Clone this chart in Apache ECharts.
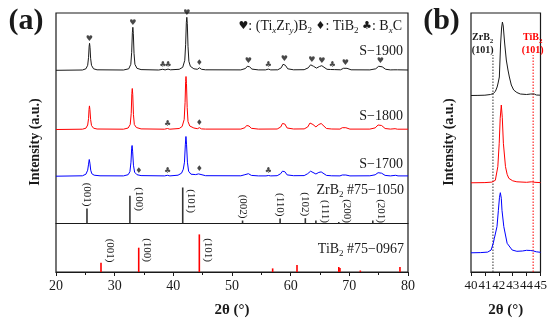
<!DOCTYPE html>
<html><head><meta charset="utf-8">
<script src="https://cdn.jsdelivr.net/npm/echarts@6/dist/echarts.min.js"></script>
<style>html,body{margin:0;padding:0;background:#fff}#c{width:550px;height:322px}</style>
</head><body><div id="c"></div>
<script>
// ---------- DATA (2θ in degrees, intensity in arbitrary units) ----------
const s1900 = [[20,0],[24.5,0.3],[25.1,1.5],[25.4,5],[25.55,13],[25.65,24],[25.72,27],[25.8,23],[25.9,12],[26.05,5],[26.4,1.5],[27,0.5],
[31.5,0.3],[32.4,1.5],[32.75,6],[32.9,18],[33.02,38],[33.1,43],[33.18,37],[33.3,17],[33.45,6],[33.8,2],[34.5,0.7],
[37.5,0.3],[38.2,1],[38.6,0.4],[39.1,1.2],[39.5,0.5],
[41.0,1],[41.6,3],[41.95,10],[42.1,26],[42.22,48],[42.3,53],[42.38,47],[42.5,24],[42.65,9],[42.9,4],[43.5,1.5],[44.1,1],[44.45,2.5],[44.8,1],[45.5,0.5],
[51.5,0.4],[52.3,1.8],[52.6,4],[52.8,5],[53.0,3.5],[53.4,1.2],[54.5,0.4],
[55.7,0.4],[56.2,1.2],[56.6,0.4],
[57.8,0.5],[58.4,2.5],[58.7,6],[58.9,7],[59.1,5],[59.5,1.5],[60.5,0.5],
[62.3,0.6],[63.0,2.5],[63.4,5.5],[63.6,6],[63.9,4],[64.4,2.2],[64.9,3.8],[65.3,4.6],[65.6,3],[66.2,1],
[66.8,0.8],[67.1,1.3],[67.5,0.7],
[68.5,0.5],[69.0,2],[69.3,3],[69.6,2],[70.3,0.5],
[73.5,0.4],[74.5,1.5],[75.0,4],[75.3,5],[75.6,3.5],[76.2,1],[77.0,0.4],
[77.6,0.5],[77.9,1.2],[78.2,0.5],[80,0.3]];

const s1800 = [[20,0],[24.5,0.3],[25.1,1.3],[25.4,4.5],[25.55,11],[25.63,20],[25.7,23.6],[25.78,20],[25.9,10],[26.05,4],[26.4,1.3],[27,0.5],
[31.5,0.3],[32.3,1.5],[32.65,5],[32.82,16],[32.93,36],[33.0,41],[33.08,35],[33.2,15],[33.35,5],[33.7,2],[34.5,0.6],
[38.5,0.3],[39.0,1],[39.4,0.3],
[41.0,1],[41.5,3],[41.85,10],[42.0,27],[42.1,48],[42.16,53],[42.24,46],[42.36,22],[42.5,8],[42.8,3.5],[43.5,1.5],[44.1,0.8],[44.45,1.8],[44.8,0.6],[45.5,0.4],
[51.5,0.4],[52.2,1.8],[52.5,4],[52.7,5],[52.9,3.5],[53.3,1.2],[54.5,0.4],
[57.7,0.5],[58.3,2.5],[58.6,6],[58.8,7.3],[59.0,5.5],[59.4,1.5],[60.5,0.5],
[62.3,0.6],[62.9,2.5],[63.3,6.5],[63.5,7.6],[63.8,5],[64.3,2.6],[64.8,5],[65.2,6],[65.5,4],[66.1,1],[67,0.5],
[68.4,0.4],[68.8,1.8],[69.1,2.7],[69.4,1.8],[70.1,0.4],
[73.5,0.4],[74.4,1.6],[74.9,4.5],[75.2,5.7],[75.5,4],[76.1,1],[77,0.4],[77.8,0.8],[78.2,0.3],[80,0.3]];

const s1700 = [[20,0],[24.5,0.4],[25.1,2],[25.4,6],[25.55,12],[25.67,16.7],[25.78,13],[25.92,6],[26.1,2.5],[26.5,1],[27.5,0.4],
[31.5,0.3],[32.3,1.5],[32.6,4.5],[32.78,14],[32.9,28],[32.97,30.7],[33.06,25],[33.2,11],[33.4,4],[33.8,1.5],[34.1,1],[34.5,0.6],
[38.5,0.3],[39.0,0.9],[39.4,0.3],
[40.8,1],[41.4,3],[41.7,7],[41.9,14],[42.05,32],[42.15,39.7],[42.25,32],[42.4,14],[42.6,5],[43.0,2],[43.8,1.6],[44.3,2.3],[44.6,1.3],[45.5,0.5],
[51.5,0.4],[52.2,1.5],[52.5,3],[52.6,3.3],[52.8,2.5],[53.3,0.8],[54.5,0.3],
[55.8,0.3],[56.2,0.7],[56.6,0.3],
[57.7,0.5],[58.3,2.5],[58.6,5],[58.8,6],[59.0,4.5],[59.4,1.3],[60.5,0.5],
[62.3,0.6],[62.9,2.5],[63.2,4.5],[63.4,5],[63.7,3.5],[64.3,2.2],[64.8,3.8],[65.2,4.3],[65.5,3],[66.1,0.8],[67,0.4],
[68.4,0.3],[68.8,1.2],[69.1,1.7],[69.4,1.2],[70.1,0.3],
[73.5,0.4],[74.4,1.4],[74.9,3.5],[75.2,4.3],[75.5,3],[76.1,0.8],[77,0.3],[77.9,0.9],[78.3,0.3],[80,0.3]];

// phase markers (2θ positions)
const hearts1900 = [25.7,33.1,42.3,52.8,58.9,63.6,65.3,69.3,75.3];
const diamonds1900 = [44.45];
const clubs1900 = [38.2,39.1,56.2,67.1];
const clubs1800 = [39.0];
const diamonds1800 = [44.45];
const diamonds1700 = [34.1,44.45];
const clubs1700 = [39.0,56.2];

// reference cards
const zrPos = [25.28,32.6,41.6,51.8,58.2,62.5,64.3,68.2,74.0];
const zrInt = [15,27.7,36,3,5,5.3,3,1.5,3];
const zrHkl = ['(001)','(100)','(101)','(002)','(110)','(102)','(111)','(200)','(201)'];
const zrLabelSide = ['top','right','right','top','top','top','right','right','right'];
const zrLabelAt = [0,12.5,10.5,0,0,0,0.5,0.5,0.5];

const tiPos = [27.67,34.1,44.43,56.93,61.08,68.2,68.4,71.87,78.63];
const tiInt = [9.3,24.3,37.6,3.6,7,5,4,1.5,5];
const tiHkl = ['(001)','(100)','(101)','','','','','',''];
const tiLabelSide = ['right','right','right','','','','','',''];
const tiLabelAt = [9.5,10,10,0,0,0,0,0,0];

// panel (b) zoom on (101)
const b1900 = [[40,0.5],[40.5,0.6],[41,0.8],[41.4,1.5],[41.6,2.5],[41.75,4.5],[41.88,9],[41.95,13],[42.04,19],[42.13,52],[42.2,68],[42.26,74],[42.32,70],[42.42,53],[42.54,36],[42.66,26],[42.76,19],[42.9,11],[43.07,6],[43.3,3.5],[43.55,2],[44.0,1.5],[44.3,2],[44.42,3.5],[44.55,2],[44.7,1],[45,0.8]];
const b1800 = [[40,0.5],[41,0.7],[41.5,1.2],[41.75,3],[41.93,16.7],[42.03,40],[42.1,65],[42.18,78.3],[42.25,66],[42.33,40],[42.48,16.7],[42.6,9],[42.72,5],[43.0,2.5],[43.3,1.5],[44.0,1],[44.35,1.5],[44.45,2.2],[44.6,1],[45,0.7]];
const b1700 = [[40,0.5],[40.7,0.7],[41.2,1.2],[41.45,3.3],[41.6,10],[41.68,15],[41.78,17],[41.87,26.7],[41.97,43],[42.05,56],[42.11,60.6],[42.18,55],[42.23,43],[42.36,26.7],[42.6,10],[42.96,3.3],[43.3,2],[43.7,2.3],[44.0,3],[44.3,2.8],[44.5,2.3],[44.7,1.5],[45,1]];
const refLines = [41.58, 44.47];

const xTicksA = [20,30,40,50,60,70,80];
const xTicksB = [40,41,42,43,44,45];

// ---------- LAYOUT / STYLE ----------
const FONT = '"Liberation Serif","Times New Roman",serif';
const INK = '#1a1a1a', RED = '#ff0000', BLUE = '#0000ff';
const A = {l:56, r:408, t:13, b:272};
const B = {l:471, r:540.5, t:13, b:272};

const grids=[], xAxes=[], yAxes=[], series=[];
function addGrid(box, base, xr, xOpts, frame){
  const i = grids.length;
  const g = {left:box.l, top:box.t, width:box.r-box.l, height:base-box.t, containLabel:false, outerBoundsMode:'none'};
  if (frame) Object.assign(g, {show:true, borderColor:INK, borderWidth:1.2});
  grids.push(g);
  xAxes.push(Object.assign({gridIndex:i, type:'value', min:xr[0], max:xr[1], show:false, splitLine:{show:false}}, xOpts||{}));
  yAxes.push({gridIndex:i, type:'value', min:0, max:base-box.t, show:false, splitLine:{show:false}});
  return i;
}
function frameX(interval, minor, fs){
  return {show:true, interval, axisLine:{show:true, onZero:false, lineStyle:{color:INK, width:1.2}},
    axisTick:{show:true, inside:false, length:4, lineStyle:{color:INK, width:1}},
    minorTick:{show:minor, splitNumber:2, length:3, lineStyle:{color:INK, width:1}},
    axisLabel:{fontSize:fs, fontFamily:FONT, color:INK, margin:7},
    splitLine:{show:false}, minorSplitLine:{show:false},
    name:'2θ (°)', nameLocation:'middle', nameGap:31,
    nameTextStyle:{fontWeight:'bold', fontSize:15, fontFamily:FONT, color:INK}};
}
function peakAt(data, x){ let m=0; data.forEach(d=>{ if(Math.abs(d[0]-x)<=0.3 && d[1]>m) m=d[1]; }); return m; }
function addLine(gi, data, color){
  series.push({type:'line', xAxisIndex:gi, yAxisIndex:gi, data, showSymbol:false, symbol:'none', clip:false,
    lineStyle:{color, width:1}, itemStyle:{color}, animation:false, silent:true, z:3});
}
function addMarks(gi, data, xs, glyph, fs){
  series.push({type:'scatter', xAxisIndex:gi, yAxisIndex:gi, data:xs.map(x=>[x, peakAt(data,x)]),
    symbolSize:1, itemStyle:{color:'rgba(0,0,0,0)'}, clip:false, silent:true, animation:false, z:5,
    label:{show:true, position:'top', distance:0, formatter:glyph, color:INK, fontSize:fs||8, fontFamily:'DejaVu Sans'}});
}
function addSticks(gi, pos, ints, hkl, side, at, color){
  series.push({type:'custom', xAxisIndex:gi, yAxisIndex:gi, clip:false, silent:true, animation:false, z:4,
    data:pos.map((p,i)=>[p, ints[i], i]),
    renderItem:(params, api)=>{
      const x=api.value(0), h=api.value(1), i=api.value(2);
      const p0=api.coord([x,0]), p1=api.coord([x,h]);
      const ch=[{type:'line', shape:{x1:p0[0],y1:p0[1],x2:p1[0],y2:p1[1]}, style:{stroke:color, lineWidth:1.6}}];
      if (hkl[i]) {
        let ox, oy;
        if (side[i]==='top') { ox=p1[0]; oy=p1[1]-2; }
        else { const pl=api.coord([x, at[i]]); ox=p0[0]+8.5; oy=pl[1]; }
        ch.push({type:'text', x:ox, y:oy, rotation:-Math.PI/2,
          style:{text:hkl[i], fill:INK, font:'11px '+FONT, align:'right', verticalAlign:'middle'}});
      }
      return {type:'group', children:ch};
    }});
}

// panel (a)
const gA = addGrid(A, A.b, [20,80], frameX(10, true, 14), true);      // frame + TiB2 card
const g19 = addGrid(A, 70.3, [20,80]);
const g18 = addGrid(A, 129.5, [20,80]);
const g17 = addGrid(A, 176.2, [20,80]);
const gZr = addGrid(A, 223.5, [20,80], {show:true, axisLine:{show:true, onZero:false, lineStyle:{color:INK, width:1.2}}, axisTick:{show:false}, axisLabel:{show:false}});
addLine(g19, s1900, INK);
addLine(g18, s1800, RED);
addLine(g17, s1700, BLUE);
addMarks(g19, s1900, hearts1900, '♥');
addMarks(g19, s1900, diamonds1900, '♦');
addMarks(g19, s1900, clubs1900, '♣');
addMarks(g18, s1800, clubs1800, '♣');
addMarks(g18, s1800, diamonds1800, '♦');
addMarks(g17, s1700, diamonds1700, '♦');
addMarks(g17, s1700, clubs1700, '♣');
addSticks(gZr, zrPos, zrInt, zrHkl, zrLabelSide, zrLabelAt, '#333');
addSticks(gA, tiPos, tiInt, tiHkl, tiLabelSide, tiLabelAt, RED);

// panel (b)
const gB = addGrid(B, B.b, [40,45], frameX(1, false, 13), true);
const gb19 = addGrid(B, 96, [40,45]);
const gb18 = addGrid(B, 183.3, [40,45]);
const gb17 = addGrid(B, 253.3, [40,45]);
addLine(gb19, b1900, INK);
addLine(gb18, b1800, RED);
addLine(gb17, b1700, BLUE);
series.push({type:'custom', xAxisIndex:gB, yAxisIndex:gB, clip:false, silent:true, animation:false, z:2,
  data:refLines.map((x,i)=>[x,i]),
  renderItem:(params, api)=>{
    const x=api.value(0), i=api.value(1);
    const p0=api.coord([x,0]); const top=55;
    return {type:'line', shape:{x1:p0[0], y1:p0[1], x2:p0[0], y2:top},
      style:{stroke: i===0 ? '#333' : RED, lineWidth:1, lineDash:[1.5,1.5]}};
  }});

function txt(x, y, text, font, fill, align, extra){
  return Object.assign({type:'text', x, y, silent:true,
    style:Object.assign({text, font, fill:fill||INK, align:align||'center', textAlign:align||'center', verticalAlign:'middle', textVerticalAlign:'middle'}, extra||{})});
}
function richStyle(fs, fill, bold){
  const w = bold ? 'bold' : 'normal';
  return {
    n:{fontSize:fs, fontFamily:FONT, fontWeight:w, color:fill, lineHeight:fs+4, verticalAlign:'middle'},
    s:{fontSize:Math.round(fs*0.65), fontFamily:FONT, fontWeight:w, color:fill, lineHeight:Math.round(fs*0.65), verticalAlign:'bottom'},
    si:{fontSize:Math.round(fs*0.65), fontFamily:FONT, fontStyle:'italic', fontWeight:w, color:fill, lineHeight:Math.round(fs*0.65), verticalAlign:'bottom'},
    g:{fontSize:fs-3, fontFamily:'DejaVu Sans', color:fill, lineHeight:fs+4, verticalAlign:'middle'}
  };
}
function richTxt(x, y, text, fs, fill, align, bold){
  return {type:'text', x, y, silent:true, style:{text, rich:richStyle(fs, fill, bold), fill, align, textAlign:align, verticalAlign:'middle', textVerticalAlign:'middle', font: (bold?'bold ':'')+fs+'px '+FONT}};
}

const graphics = [
  txt(26, 21, '(a)', 'bold 30px '+FONT),
  txt(441.5, 21, '(b)', 'bold 30px '+FONT),
  Object.assign(txt(35.5, 142, 'Intensity (a.u.)', 'bold 14px '+FONT), {rotation:Math.PI/2}),
  Object.assign(txt(449, 142, 'Intensity (a.u.)', 'bold 14px '+FONT), {rotation:Math.PI/2}),
  richTxt(402, 26, '{g|♥}{n|: (Ti}{si|x}{n|Zr}{si|y}{n|)B}{s|2}{n| }{g|♦}{n|: TiB}{s|2}{n| }{g|♣}{n|: B}{si|x}{n|C}', 14, INK, 'right'),
  txt(403, 51.7, 'S−1900', '14px '+FONT, INK, 'right'),
  txt(403, 116.7, 'S−1800', '14px '+FONT, INK, 'right'),
  txt(403, 164.3, 'S−1700', '14px '+FONT, INK, 'right'),
  richTxt(404, 190.5, '{n|ZrB}{s|2}{n| #75−1050}', 14, INK, 'right'),
  richTxt(404, 249, '{n|TiB}{s|2}{n| #75−0967}', 14, INK, 'right'),
  richTxt(482.7, 37.5, '{n|ZrB}{s|2}', 10, INK, 'center', true),
  txt(482.7, 50, '(101)', 'bold 10px '+FONT),
  richTxt(532.7, 37.5, '{n|TiB}{s|2}', 10, RED, 'center', true),
  txt(532.7, 50, '(101)', 'bold 10px '+FONT, RED)
];

const chart = echarts.init(document.getElementById('c'), null, {renderer:'canvas'});
chart.setOption({
  animation:false,
  backgroundColor:'#fff',
  textStyle:{fontFamily:FONT},
  grid:grids, xAxis:xAxes, yAxis:yAxes, series,
  graphic:{elements:graphics}
});
</script></body></html>
